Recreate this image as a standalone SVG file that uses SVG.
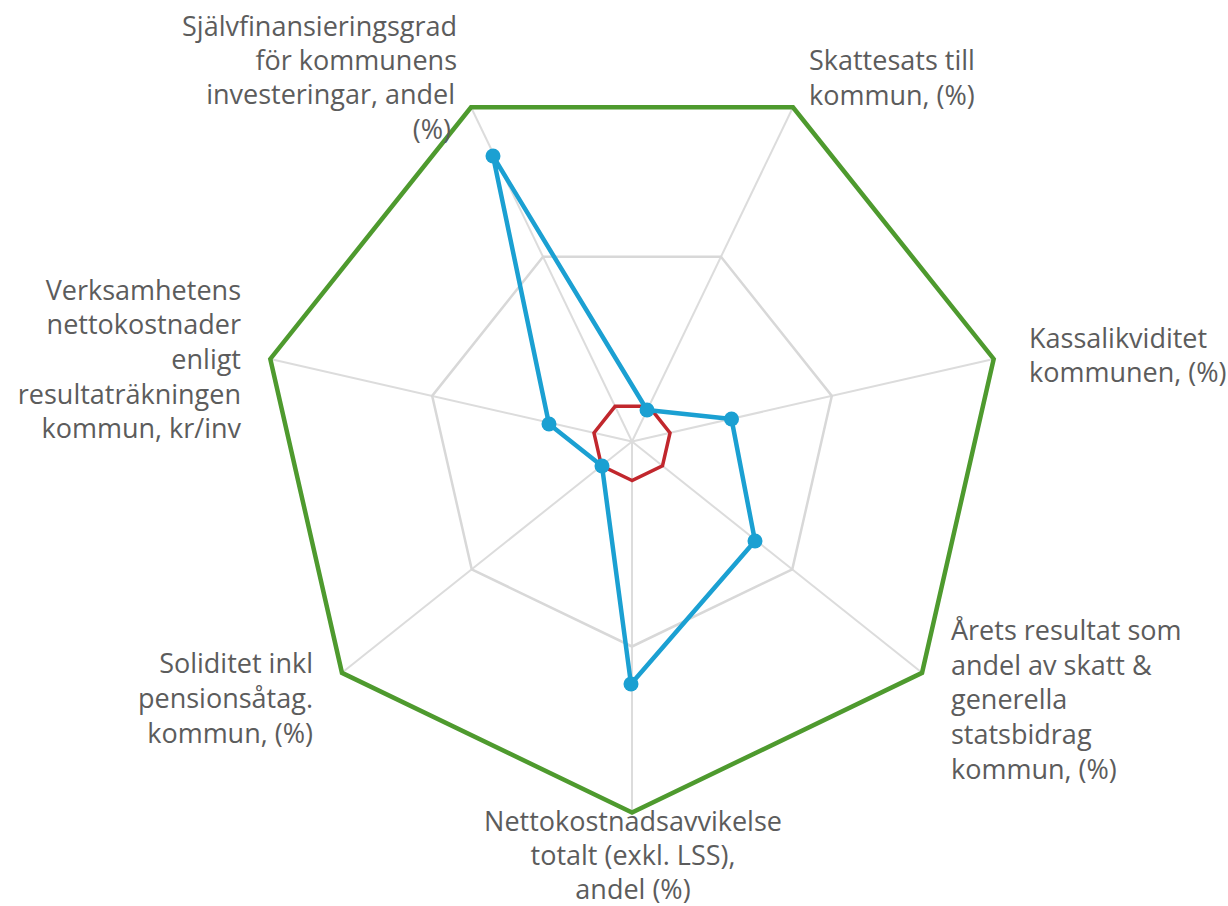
<svg xmlns="http://www.w3.org/2000/svg" width="1228" height="906" viewBox="0 0 1228 906">
<style>
.lbl{font-family:"Open Sans","Noto Sans","Liberation Sans",sans-serif;font-size:27px;fill:#5c5c5c}
.axis{stroke:#dcdcdc;stroke-width:2;fill:none}
.ring{stroke:#d8d8d8;stroke-width:2.5;fill:none;stroke-linejoin:miter}
.green{stroke:#4e9a2e;stroke-width:4.5;fill:none;stroke-linejoin:miter}
.red{stroke:#c1272d;stroke-width:3.5;fill:none;stroke-linejoin:miter}
.blue{stroke:#1ba0d2;stroke-width:4.5;fill:none;stroke-linejoin:round}
.dot{fill:#1ba0d2}
</style>
<rect width="1228" height="906" fill="#ffffff"/>
<g id="grid">
<g id="axes" class="axis">
<line x1="632" y1="441.5" x2="632" y2="812.5"/>
<line x1="632" y1="441.5" x2="341.95" y2="672.82"/>
<line x1="632" y1="441.5" x2="270.31" y2="358.95"/>
<line x1="632" y1="441.5" x2="471.02" y2="107.23"/>
<line x1="632" y1="441.5" x2="792.98" y2="107.23"/>
<line x1="632" y1="441.5" x2="993.69" y2="358.95"/>
<line x1="632" y1="441.5" x2="922.05" y2="672.82"/>
</g>
<polygon id="ring-mid" class="ring" points="632,646.5 471.73,569.32 432.15,395.89 543.05,256.79 720.95,256.79 831.85,395.89 792.27,569.32"/>
</g>
<g id="connectors">
<polygon id="series-max" class="green" points="632,812.5 341.95,672.82 270.31,358.95 471.02,107.23 792.98,107.23 993.69,358.95 922.05,672.82"/>
<polygon id="series-min" class="red" points="632,480.5 601.51,465.82 593.98,432.82 615.08,406.36 648.92,406.36 670.02,432.82 662.49,465.82"/>
<polygon id="series-value" class="blue" points="493,156 647,410 731.5,419 755,541 631,684 602,466 549,424"/>
</g>
<g id="markers">
<circle class="dot" cx="493" cy="156" r="7.5"/>
<circle class="dot" cx="647" cy="410" r="7.5"/>
<circle class="dot" cx="731.5" cy="419" r="7.5"/>
<circle class="dot" cx="755" cy="541" r="7.5"/>
<circle class="dot" cx="631" cy="684" r="7.5"/>
<circle class="dot" cx="602" cy="466" r="7.5"/>
<circle class="dot" cx="549" cy="424" r="7.5"/>
</g>
<g id="label-sjalvfinansieringsgrad" class="lbl" text-anchor="end">
<text x="457" y="36">Självfinansieringsgrad</text>
<text x="457" y="70">för kommunens</text>
<text x="455" y="104">investeringar, andel</text>
<text x="451" y="139">(%)</text>
</g>
<g id="label-skattesats" class="lbl">
<text x="809" y="70">Skattesats till</text>
<text x="809" y="105">kommun, (%)</text>
</g>
<g id="label-kassalikviditet" class="lbl">
<text x="1029" y="348">Kassalikviditet</text>
<text x="1029" y="382">kommunen, (%)</text>
</g>
<g id="label-arets-resultat" class="lbl">
<text x="951" y="640">Årets resultat som</text>
<text x="951" y="675">andel av skatt &amp;</text>
<text x="951" y="709">generella</text>
<text x="951" y="744">statsbidrag</text>
<text x="951" y="779">kommun, (%)</text>
</g>
<g id="label-nettokostnadsavvikelse" class="lbl" text-anchor="middle">
<text x="633" y="831">Nettokostnadsavvikelse</text>
<text x="633" y="865">totalt (exkl. LSS),</text>
<text x="633" y="899">andel (%)</text>
</g>
<g id="label-soliditet" class="lbl" text-anchor="end">
<text x="313" y="673">Soliditet inkl</text>
<text x="313" y="708">pensionsåtag.</text>
<text x="313" y="743">kommun, (%)</text>
</g>
<g id="label-verksamhetens" class="lbl" text-anchor="end">
<text x="241" y="300">Verksamhetens</text>
<text x="241" y="334">nettokostnader</text>
<text x="241" y="369">enligt</text>
<text x="241" y="404">resultaträkningen</text>
<text x="241" y="438">kommun, kr/inv</text>
</g>
</svg>
